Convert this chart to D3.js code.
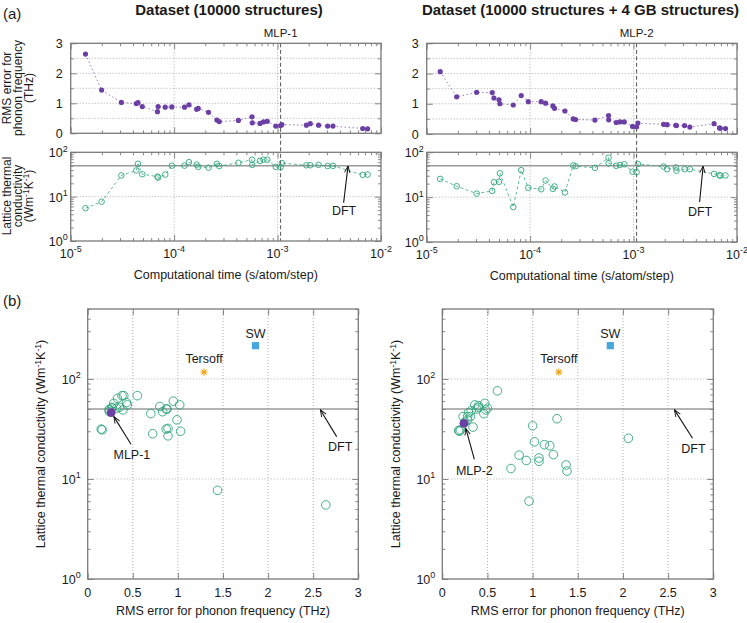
<!DOCTYPE html>
<html><head><meta charset="utf-8">
<script src="https://cdn.jsdelivr.net/npm/d3@7"></script>
<style>
body{margin:0;background:#fff}
text{font-family:"Liberation Sans",Arial,Helvetica,sans-serif;fill:#1a1a1a}
</style>
</head><body>
<svg id="c" width="747" height="623" xmlns="http://www.w3.org/2000/svg"></svg>
<script>
// ---------------- DATA ----------------
// Dataset 1 (10000 structures)
const time1 = [1.39e-5,1.99e-5,3.09e-5,4.31e-5,4.47e-5,4.92e-5,6.9e-5,7.0e-5,8.2e-5,9.5e-5,1.26e-4,1.39e-4,1.65e-4,1.71e-4,2.15e-4,2.59e-4,2.73e-4,4.18e-4,5.66e-4,5.7e-4,6.76e-4,7.3e-4,7.95e-4,9.6e-4,1.07e-3,1.1e-3,1.9e-3,2.07e-3,2.49e-3,3.05e-3,3.43e-3,6.66e-3,7.43e-3];
const rms1   = [2.64,1.44,1.03,0.99,1.02,0.89,0.72,0.89,0.87,0.88,0.87,0.95,0.80,0.83,0.70,0.44,0.39,0.43,0.55,0.35,0.33,0.38,0.40,0.24,0.26,0.29,0.27,0.32,0.27,0.24,0.24,0.16,0.15];
const kappa1 = [5.5,7.7,30,39,55,32,28.3,27,31.5,50,50,60,53,47,45,55,49,58,68,52,64,68,68,47,46,57,51,51,52,49,49.5,31,31.5];
const mlpIndex1 = 24;
// Dataset 2 (10000 structures + 4 GB structures)
const time2 = [1.35e-5,1.95e-5,3.04e-5,4.3e-5,4.47e-5,5.0e-5,5.1e-5,6.87e-5,8.2e-5,9.6e-5,1.28e-4,1.41e-4,1.66e-4,1.72e-4,2.17e-4,2.61e-4,2.75e-4,4.23e-4,5.73e-4,5.75e-4,6.79e-4,7.38e-4,8.13e-4,9.78e-4,1.07e-3,1.1e-3,1.95e-3,2.11e-3,2.56e-3,2.6e-3,3.11e-3,3.5e-3,6.0e-3,6.78e-3,6.9e-3,7.74e-3];
const rms2   = [2.06,1.23,1.38,1.37,1.19,1.13,1.00,0.96,1.27,1.07,1.07,1.02,0.93,0.85,0.76,0.50,0.48,0.46,0.61,0.47,0.38,0.40,0.40,0.25,0.24,0.36,0.32,0.31,0.29,0.28,0.28,0.23,0.34,0.20,0.19,0.18];
const kappa2 = [25.5,17.5,12,13.8,21.5,22,34,6,40,16.2,15,23.5,15.3,17.3,12.7,51,49,45,76,57,50,52,54,37,36,55,48,42,46,39,42,42,33,31,30,30.5];
const mlpIndex2 = 24;
// Empirical potentials
const refNames = ["Tersoff","SW"];
const refRms   = [1.29,1.86];
const refKappa = [117,215];
const kappaDFT = 50;
// Tick labels
const rmsTopTicks = [0,1,2,3];
const rmsTopGrid = [0.5,1,1.5,2,2.5];
const timeTicks = [1e-5,1e-4,1e-3,1e-2];
const timeTickExp = ["-5","-4","-3","-2"];
const kappaTicks = [1,10,100];
const kappaTickExp = ["0","1","2"];
const rmsBottomTicks = [0,0.5,1,1.5,2,2.5,3];
const rmsBottomLabels = ["0","0.5","1","1.5","2","2.5","3"];

// ---------------- STYLE ----------------
const C = {purple:"#6b3fa3", green:"#2fa57c", orange:"#e69f00", blue:"#45a7dc",
           frame:"#7a7a7a", grid:"#9a9a9a", dft:"#9a9a9a", mlp:"#555"};
const svg = d3.select("#c");

svg.append("defs").append("marker").attr("id","arr").attr("viewBox","-10 -5 12 10")
  .attr("refX",0).attr("refY",0).attr("markerWidth",10).attr("markerHeight",10)
  .attr("markerUnits","userSpaceOnUse").attr("orient","auto")
  .append("path").attr("d","M-8,-3.2 L0,0 L-8,3.2").attr("fill","none").attr("stroke","#111").attr("stroke-width",1.1);

function sup(t, base, exp, size){
  t.append("tspan").text(base);
  t.append("tspan").attr("dy",-size*0.45).attr("font-size",size*0.72).text(exp);
}
function tickAxis(g, axisFn, scale, values, size, tr){
  g.append("g").attr("transform",tr)
   .call(axisFn(scale).tickValues(values).tickSize(size).tickFormat(""))
   .call(s=>{s.select(".domain").remove(); s.selectAll("line").attr("stroke",C.frame).attr("stroke-width",0.9);});
}
function frame(g,x0,x1,y0,y1){
  g.append("rect").attr("x",x0).attr("y",y0).attr("width",x1-x0).attr("height",y1-y0)
   .attr("fill","none").attr("stroke",C.frame).attr("stroke-width",1.3);
}
function vgrid(g,x,vals,y0,y1){
  g.selectAll(null).data(vals).join("line").attr("x1",d=>x(d)).attr("x2",d=>x(d)).attr("y1",y0).attr("y2",y1)
   .attr("stroke",C.grid).attr("stroke-width",0.8).attr("stroke-dasharray","1,2");
}
function hgrid(g,y,vals,x0,x1){
  g.selectAll(null).data(vals).join("line").attr("y1",d=>y(d)).attr("y2",d=>y(d)).attr("x1",x0).attr("x2",x1)
   .attr("stroke",C.grid).attr("stroke-width",0.8).attr("stroke-dasharray","1,2");
}
function arrow(g,x1,y1,x2,y2){
  g.append("line").attr("x1",x1).attr("y1",y1).attr("x2",x2).attr("y2",y2)
   .attr("stroke","#111").attr("stroke-width",1.1).attr("marker-end","url(#arr)");
}
const decadeMinor = (decs, max) => decs.flatMap(d=>[2,3,4,5,6,7,8,9].map(m=>d*m)).filter(v=>v<=max);

// ---------------- TOP PANELS ----------------
function topPanels(o){
  const g = svg.append("g");
  const x = d3.scaleLog().domain([1e-5,1e-2]).range([o.xL,o.xR]);
  const yU = d3.scaleLinear().domain([0,3]).range([o.uB,o.uT]);
  const yL = d3.scaleLog().domain([1,100]).range([o.lB,o.lT]);
  const tMinor = decadeMinor([1e-5,1e-4,1e-3],1e-2);
  vgrid(g,x,[1e-4,1e-3],o.uT,o.uB);
  hgrid(g,yU,rmsTopGrid,o.xL,o.xR);
  vgrid(g,x,[1e-4,1e-3],o.lT,o.lB);
  hgrid(g,yL,[10],o.xL,o.xR);
  g.append("line").attr("x1",o.xL).attr("x2",o.xR).attr("y1",yL(kappaDFT)).attr("y2",yL(kappaDFT))
   .attr("stroke",C.dft).attr("stroke-width",1.5);
  for (const [yt,yb] of [[o.uT,o.uB],[o.lT,o.lB]]){
    tickAxis(g,d3.axisBottom,x,timeTicks,-6,`translate(0,${yb})`);
    tickAxis(g,d3.axisBottom,x,tMinor,-3,`translate(0,${yb})`);
    tickAxis(g,d3.axisTop,x,timeTicks,-6,`translate(0,${yt})`);
    tickAxis(g,d3.axisTop,x,tMinor,-3,`translate(0,${yt})`);
  }
  tickAxis(g,d3.axisLeft,yU,rmsTopTicks,-6,`translate(${o.xL},0)`);
  tickAxis(g,d3.axisLeft,yU,rmsTopGrid.filter(v=>v%1),-3,`translate(${o.xL},0)`);
  tickAxis(g,d3.axisRight,yU,rmsTopTicks,-6,`translate(${o.xR},0)`);
  tickAxis(g,d3.axisRight,yU,rmsTopGrid.filter(v=>v%1),-3,`translate(${o.xR},0)`);
  const kMinor = decadeMinor([1,10],100);
  tickAxis(g,d3.axisLeft,yL,kappaTicks,-6,`translate(${o.xL},0)`);
  tickAxis(g,d3.axisLeft,yL,kMinor,-3,`translate(${o.xL},0)`);
  tickAxis(g,d3.axisRight,yL,kappaTicks,-6,`translate(${o.xR},0)`);
  tickAxis(g,d3.axisRight,yL,kMinor,-3,`translate(${o.xR},0)`);
  const mt = o.time[o.mlp];
  g.append("line").attr("x1",x(mt)).attr("x2",x(mt)).attr("y1",o.uT).attr("y2",o.lB)
   .attr("stroke",C.mlp).attr("stroke-width",1).attr("stroke-dasharray","4,2.5");
  g.append("text").attr("x",x(mt)).attr("y",o.uT-6).attr("text-anchor","middle").attr("font-size",11.5).text(o.mlpLabel);
  frame(g,o.xL,o.xR,o.uT,o.uB);
  frame(g,o.xL,o.xR,o.lT,o.lB);
  const idx = d3.range(o.time.length);
  g.append("path").attr("d",d3.line().x(i=>x(o.time[i])).y(i=>yU(o.rms[i]))(idx))
   .attr("fill","none").attr("stroke",C.purple).attr("stroke-width",0.9).attr("stroke-dasharray","1.5,2.5").attr("opacity",0.75);
  g.selectAll(null).data(idx).join("circle").attr("cx",i=>x(o.time[i])).attr("cy",i=>yU(o.rms[i])).attr("r",2.6).attr("fill",C.purple);
  g.append("path").attr("d",d3.line().x(i=>x(o.time[i])).y(i=>yL(o.kappa[i]))(idx))
   .attr("fill","none").attr("stroke",C.green).attr("stroke-width",0.9).attr("stroke-dasharray","3,2.5").attr("opacity",0.85);
  g.selectAll(null).data(idx).join("circle").attr("cx",i=>x(o.time[i])).attr("cy",i=>yL(o.kappa[i])).attr("r",2.8)
   .attr("fill","none").attr("stroke",C.green).attr("stroke-width",0.9);
  g.selectAll(null).data(rmsTopTicks).join("text").attr("x",o.xL-8).attr("y",d=>yU(d)).attr("dy","0.36em")
   .attr("text-anchor","end").attr("font-size",12.5).text(d=>d);
  kappaTicks.forEach((v,i)=>{
    const t=g.append("text").attr("x",o.xL-3).attr("y",yL(v)+5).attr("text-anchor","end").attr("font-size",12.5);
    sup(t,"10",kappaTickExp[i],12.5);
  });
  timeTicks.forEach((v,i)=>{
    const t=g.append("text").attr("x",x(v)).attr("y",o.lB+17).attr("text-anchor","middle").attr("font-size",12.5);
    sup(t,"10",timeTickExp[i],12.5);
  });
  g.append("text").attr("x",(o.xL+o.xR)/2).attr("y",o.lB+38).attr("text-anchor","middle").attr("font-size",12.5)
   .text("Computational time (s/atom/step)");
  g.append("text").attr("x",x(o.dftText[0])).attr("y",yL(o.dftText[1])).attr("dy","0.36em").attr("text-anchor","middle").attr("font-size",12.5).text("DFT");
  arrow(g,x(o.dftTail[0]),yL(o.dftTail[1]),x(o.dftTip[0]),yL(o.dftTip[1]));
  g.append("text").attr("x",o.titleX).attr("y",15).attr("text-anchor","middle").attr("font-size",15).attr("font-weight","bold").text(o.title);
  return g;
}

topPanels({xL:70.7,xR:381,uT:43.3,uB:133.3,lT:152.3,lB:241,time:time1,rms:rms1,kappa:kappa1,mlp:mlpIndex1,
  mlpLabel:"MLP-1",dftText:[4.4e-3,4.8],dftTail:[4.35e-3,7.3],dftTip:[4.8e-3,49],titleX:229,title:"Dataset (10000 structures)"});
topPanels({xL:426.7,xR:737,uT:43.3,uB:134,lT:152.3,lB:242,time:time2,rms:rms2,kappa:kappa2,mlp:mlpIndex2,
  mlpLabel:"MLP-2",dftText:[4.4e-3,4.8],dftTail:[4.35e-3,7.8],dftTip:[4.7e-3,49],titleX:580.5,title:"Dataset (10000 structures + 4 GB structures)"});

function rotLabel(lines, xs, cy, size){
  lines.forEach((l,i)=>{
    const t = svg.append("text").attr("transform",`translate(${xs[i]},${cy}) rotate(-90)`).attr("text-anchor","middle")
      .attr("dy","0.36em").attr("font-size",size);
    if (typeof l === "string") t.text(l); else l(t);
  });
}
function wmk(t,prefix){
  t.append("tspan").text(prefix+"Wm");
  t.append("tspan").attr("dy",-4).attr("font-size",8.5).text("-1");
  t.append("tspan").attr("dy",4).text("K");
  t.append("tspan").attr("dy",-4).attr("font-size",8.5).text("-1");
  t.append("tspan").attr("dy",4).text(")");
}
rotLabel(["RMS error for","phonon frequency","(THz)"],[7,18,29],88,12);
rotLabel(["Lattice thermal","conductivity",t=>wmk(t,"(")],[7,18,29],196,12);

svg.append("text").attr("x",3).attr("y",19).attr("font-size",15).text("(a)");
svg.append("text").attr("x",3).attr("y",306).attr("font-size",15).text("(b)");

// ---------------- BOTTOM PANELS ----------------
function bottomPanel(o){
  const g = svg.append("g");
  const x = d3.scaleLinear().domain([0,3]).range([o.xL,o.xR]);
  const y = d3.scaleLog().domain([1,500]).range([579,309]);
  const yT=309,yB=579;
  vgrid(g,x,rmsBottomTicks.slice(1,-1),yT,yB);
  hgrid(g,y,[10,100],o.xL,o.xR);
  g.append("line").attr("x1",o.xL).attr("x2",o.xR).attr("y1",y(kappaDFT)).attr("y2",y(kappaDFT))
   .attr("stroke",C.dft).attr("stroke-width",1.5);
  const kMinor = decadeMinor([1,10,100],500);
  tickAxis(g,d3.axisBottom,x,rmsBottomTicks,-6,`translate(0,${yB})`);
  tickAxis(g,d3.axisTop,x,rmsBottomTicks,-6,`translate(0,${yT})`);
  tickAxis(g,d3.axisLeft,y,kappaTicks,-6,`translate(${o.xL},0)`);
  tickAxis(g,d3.axisLeft,y,kMinor,-3,`translate(${o.xL},0)`);
  tickAxis(g,d3.axisRight,y,kappaTicks,-6,`translate(${o.xR},0)`);
  tickAxis(g,d3.axisRight,y,kMinor,-3,`translate(${o.xR},0)`);
  frame(g,o.xL,o.xR,yT,yB);
  const idx = d3.range(o.rms.length).filter(i=>i!==o.mlp);
  g.selectAll(null).data(idx).join("circle").attr("cx",i=>x(o.rms[i])).attr("cy",i=>y(o.kappa[i])).attr("r",4.3)
   .attr("fill","none").attr("stroke",C.green).attr("stroke-width",0.9);
  g.append("circle").attr("cx",x(o.rms[o.mlp])).attr("cy",y(o.kappa[o.mlp])).attr("r",4.4).attr("fill",C.purple);
  const tx=x(refRms[0]), ty=y(refKappa[0]);
  [0,45,90,135].forEach(a=>{
    g.append("line").attr("x1",tx-3.6).attr("x2",tx+3.6).attr("y1",ty).attr("y2",ty)
     .attr("transform",`rotate(${a},${tx},${ty})`).attr("stroke",C.orange).attr("stroke-width",1);
  });
  g.append("rect").attr("x",x(refRms[1])-3.6).attr("y",y(refKappa[1])-3.6).attr("width",7.2).attr("height",7.2).attr("fill",C.blue);
  g.append("text").attr("x",tx).attr("y",ty-14).attr("dy","0.36em").attr("text-anchor","middle").attr("font-size",12.5).text(refNames[0]);
  g.append("text").attr("x",x(refRms[1])).attr("y",y(refKappa[1])-12).attr("dy","0.36em").attr("text-anchor","middle").attr("font-size",12.5).text(refNames[1]);
  g.append("text").attr("x",x(o.dftText[0])).attr("y",y(o.dftText[1])).attr("dy","0.36em").attr("text-anchor","middle").attr("font-size",12.5).text("DFT");
  arrow(g,x(o.dftTail[0]),y(o.dftTail[1]),x(o.dftTip[0]),y(o.dftTip[1]));
  g.append("text").attr("x",x(o.mlpText[0])).attr("y",y(o.mlpText[1])).attr("dy","0.36em").attr("text-anchor","middle").attr("font-size",12.5).text(o.mlpLabel);
  arrow(g,x(o.mlpTail[0]),y(o.mlpTail[1]),x(o.mlpTip[0]),y(o.mlpTip[1]));
  rmsBottomTicks.forEach((v,i)=>{
    g.append("text").attr("x",x(v)).attr("y",597).attr("text-anchor","middle").attr("font-size",12.5).text(rmsBottomLabels[i]);
  });
  kappaTicks.forEach((v,i)=>{
    const t=g.append("text").attr("x",o.xL-7).attr("y",y(v)+5).attr("text-anchor","end").attr("font-size",12.5);
    sup(t,"10",kappaTickExp[i],12.5);
  });
  g.append("text").attr("x",(o.xL+o.xR)/2).attr("y",615).attr("text-anchor","middle").attr("font-size",12.5)
   .text("RMS error for phonon frequency (THz)");
  const yl = g.append("text").attr("transform",`translate(${o.xL-47},444) rotate(-90)`).attr("text-anchor","middle")
   .attr("dy","0.36em").attr("font-size",12.5);
  wmk(yl,"Lattice thermal conductivity (");
}
bottomPanel({xL:87.7,xR:358.3,rms:rms1,kappa:kappa1,mlp:mlpIndex1,mlpLabel:"MLP-1",
  dftText:[2.8,21],dftTail:[2.76,26.5],dftTip:[2.58,49],mlpText:[0.49,17.4],mlpTail:[0.48,22.2],mlpTip:[0.29,42]});
bottomPanel({xL:442.3,xR:713.3,rms:rms2,kappa:kappa2,mlp:mlpIndex2,mlpLabel:"MLP-2",
  dftText:[2.78,20],dftTail:[2.77,25.5],dftTip:[2.57,49],mlpText:[0.355,12.1],mlpTail:[0.355,15.7],mlpTip:[0.26,32]});
</script>
</body></html>
